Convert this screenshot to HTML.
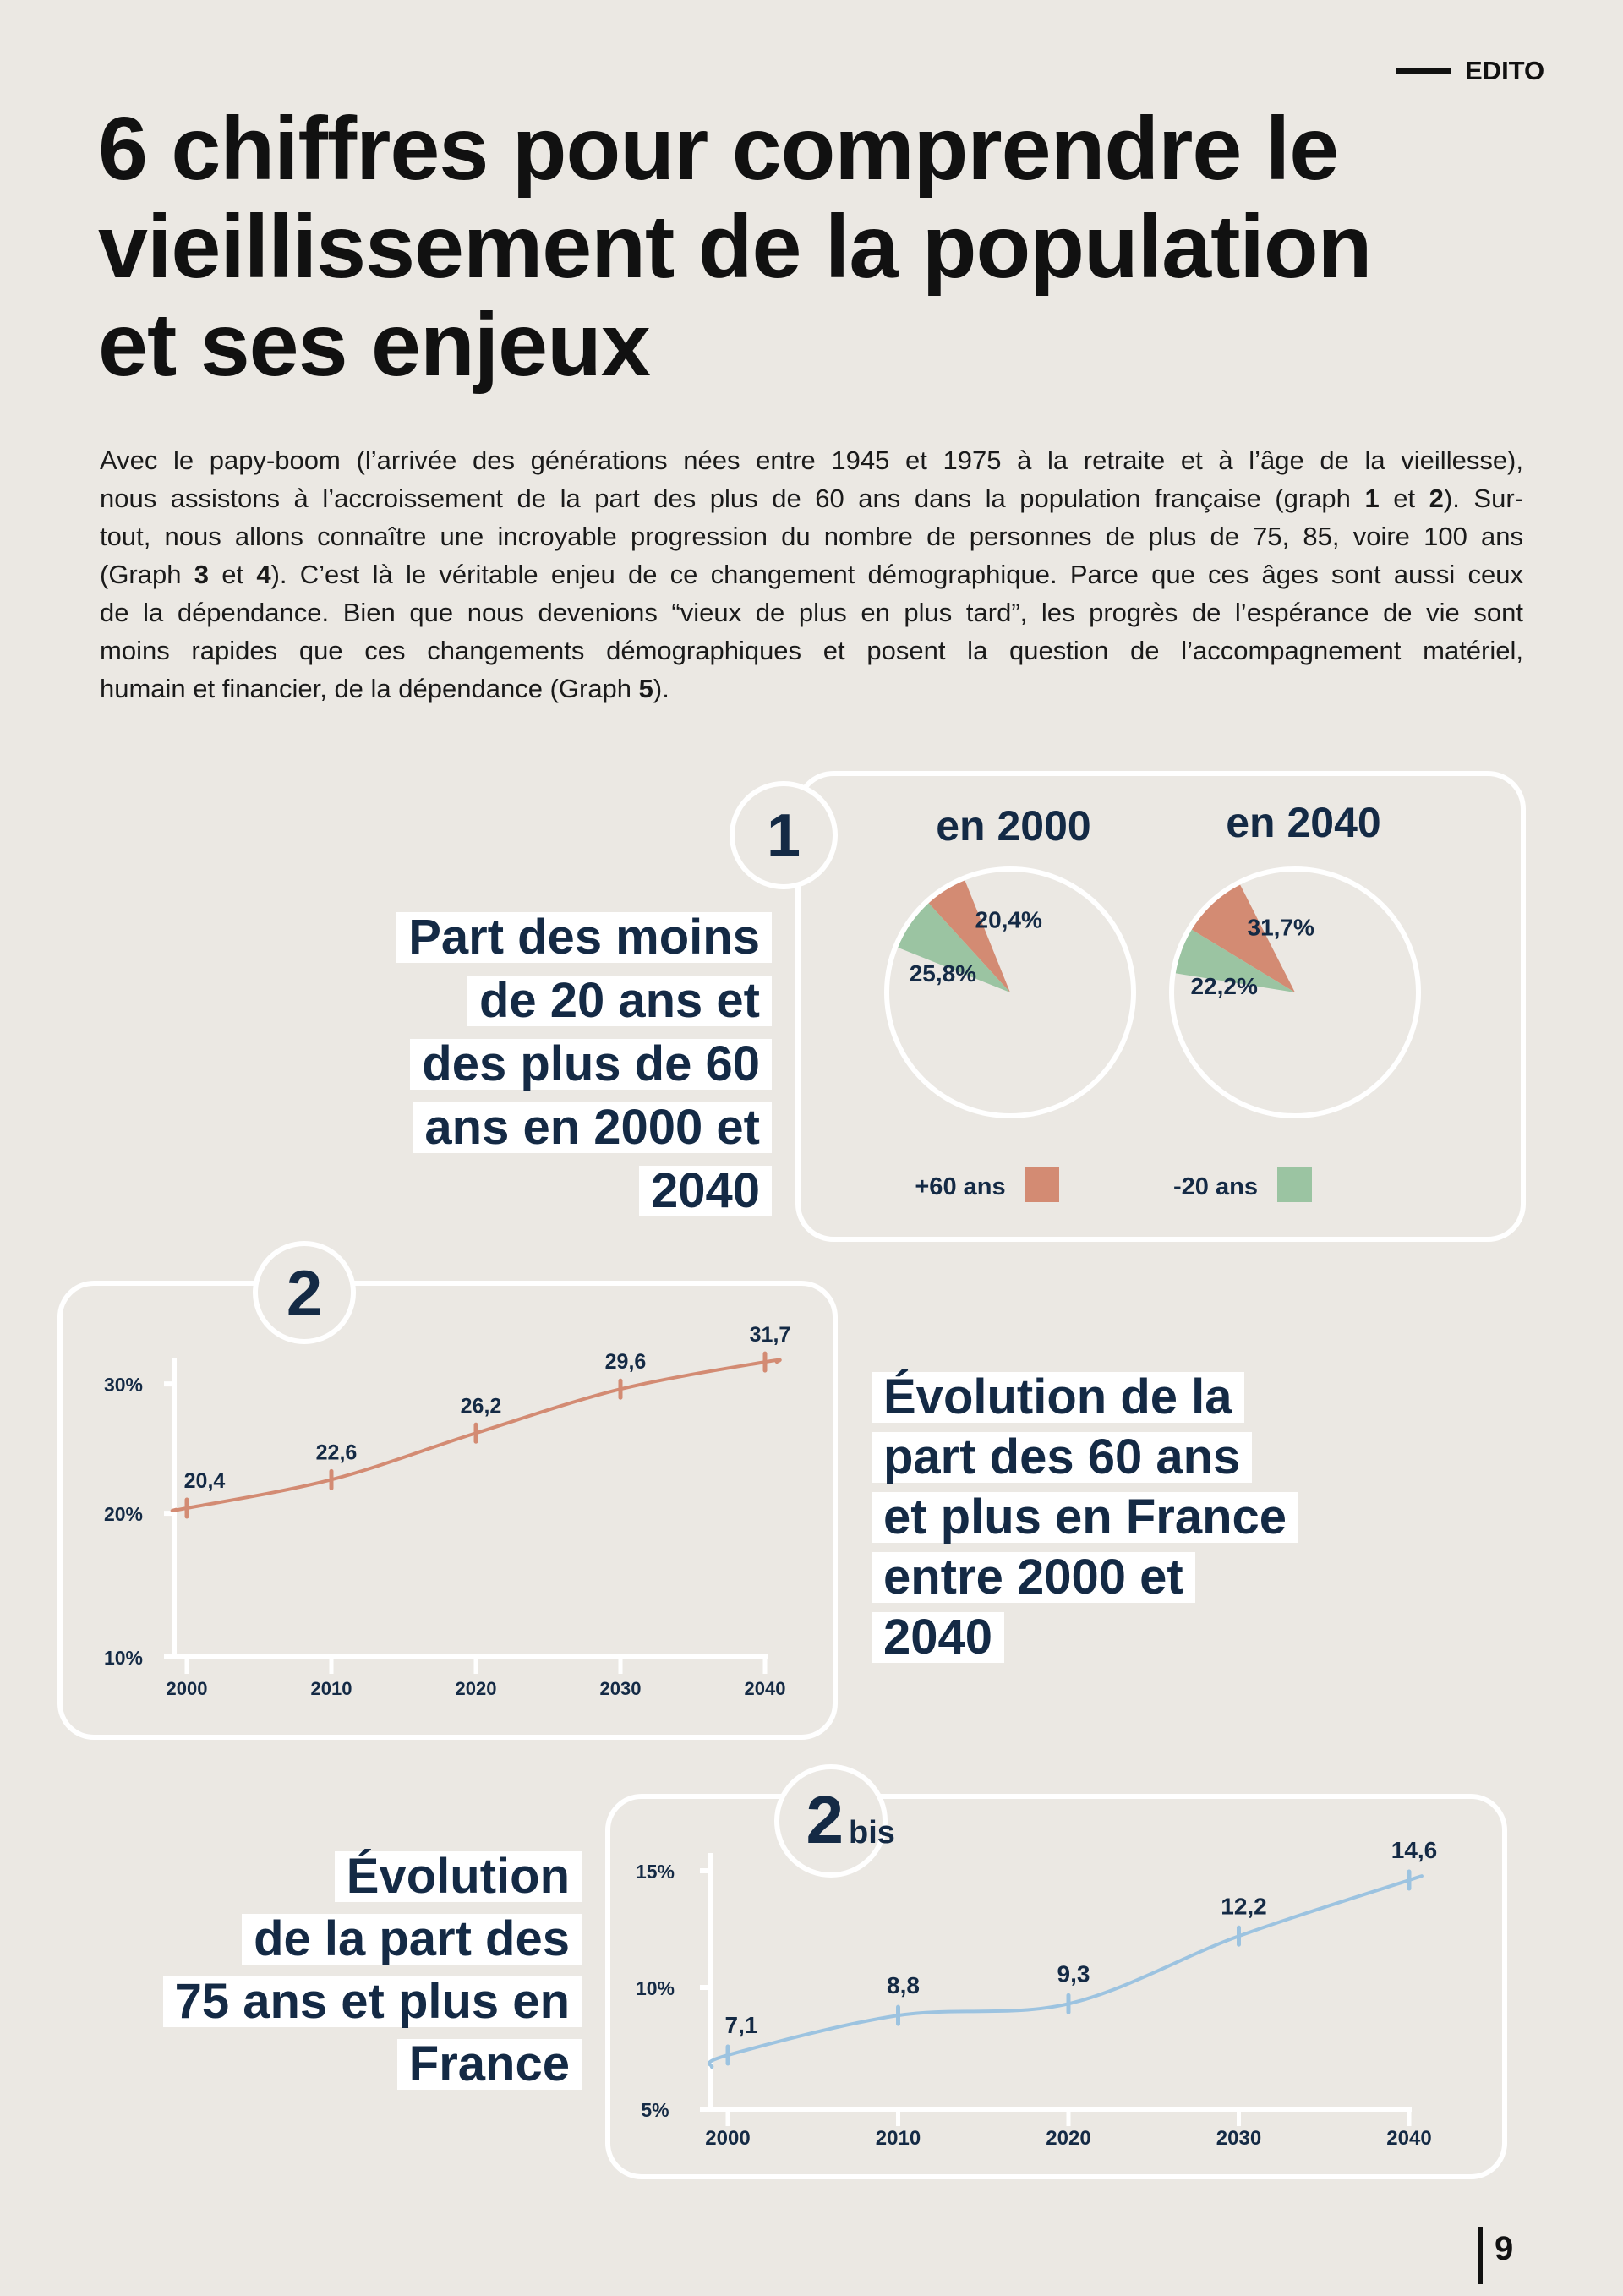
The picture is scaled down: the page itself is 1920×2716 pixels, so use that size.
<!DOCTYPE html>
<html><head><meta charset="utf-8">
<style>
*{margin:0;padding:0;box-sizing:border-box}
body{width:1920px;height:2716px;background:#ebe8e3;position:relative;overflow:hidden;font-family:"Liberation Sans",sans-serif;color:#142a45}
.abs{position:absolute}
#title{left:116px;top:118px;font-size:106px;font-weight:bold;line-height:116px;color:#111;letter-spacing:-1px;white-space:nowrap}
#intro{left:118px;top:522px;width:1684px;font-size:31px;line-height:45px;color:#1a1a1a}
#intro div{text-align:justify;text-align-last:justify;white-space:nowrap}
#intro div.last{text-align-last:left}
.hl{position:absolute;font-size:58px;font-weight:bold;color:#142a45;line-height:60px;display:flex;flex-direction:column}
.hl span{display:block;background:#fff;padding:0 14px;height:60px;white-space:nowrap}
.r{align-items:flex-end}.l{align-items:flex-start}
svg text{font-family:"Liberation Sans",sans-serif;font-weight:bold;fill:#142a45}
</style></head><body>
<div class="abs" style="left:1652px;top:80px;width:64px;height:7px;background:#111"></div>
<div class="abs" style="left:1733px;top:66px;font-size:31px;font-weight:bold;color:#111">EDITO</div>
<div id="title" class="abs">6 chiffres pour comprendre le<br>vieillissement de la population<br>et ses enjeux</div>
<div id="intro" class="abs">
<div>Avec le papy-boom (l’arrivée des générations nées entre 1945 et 1975 à la retraite et à l’âge de la vieillesse),</div>
<div>nous assistons à l’accroissement de la part des plus de 60 ans dans la population française (graph <b>1</b> et <b>2</b>). Sur-</div>
<div>tout, nous allons connaître une incroyable progression du nombre de personnes de plus de 75, 85, voire 100 ans</div>
<div>(Graph <b>3</b> et <b>4</b>). C’est là le véritable enjeu de ce changement démographique. Parce que ces âges sont aussi ceux</div>
<div>de la dépendance. Bien que nous devenions “vieux de plus en plus tard”, les progrès de l’espérance de vie sont</div>
<div>moins rapides que ces changements démographiques et posent la question de l’accompagnement matériel,</div>
<div class="last">humain et financier, de la dépendance (Graph <b>5</b>).</div>
</div>

<svg class="abs" style="left:0;top:0" width="1920" height="2716">
<g id="g1"></g><g id="g2"></g><g id="g3"></g>
</svg>

<div class="hl r" style="left:300px;top:1079px;width:613px;gap:15px">
<span>Part des moins</span><span>de 20 ans et</span><span>des plus de 60</span><span>ans en 2000 et</span><span>2040</span></div>
<div class="hl l" style="left:1031px;top:1623px;width:700px;gap:11px">
<span>Évolution de la</span><span>part des 60 ans</span><span>et plus en France</span><span>entre 2000 et</span><span>2040</span></div>
<div class="hl r" style="left:60px;top:2190px;width:628px;gap:14px">
<span>Évolution</span><span>de la part des</span><span>75 ans et plus en</span><span>France</span></div>

<div class="abs" style="left:1748px;top:2634px;width:6px;height:68px;background:#111"></div>
<div class="abs" style="left:1768px;top:2638px;font-size:40px;font-weight:bold;color:#111">9</div>

<script>
// Chart 1 data
const pieYears = ["en 2000", "en 2040"];
const over60 = [20.4, 31.7];
const under20 = [25.8, 22.2];
const over60Labels = ["20,4%", "31,7%"];
const under20Labels = ["25,8%", "22,2%"];
// Chart 2 data
const years2 = [2000, 2010, 2020, 2030, 2040];
const share60 = [20.4, 22.6, 26.2, 29.6, 31.7];
const share60Labels = ["20,4", "22,6", "26,2", "29,6", "31,7"];
const ticks2 = [10, 20, 30];
// Chart 2bis data
const years3 = [2000, 2010, 2020, 2030, 2040];
const share75 = [7.1, 8.8, 9.3, 12.2, 14.6];
const share75Labels = ["7,1", "8,8", "9,3", "12,2", "14,6"];
const ticks3 = [5, 10, 15];

const NS = "http://www.w3.org/2000/svg";
function mk(parent, tag, attrs, txt){
  const e = document.createElementNS(NS, tag);
  for (const k in attrs) e.setAttribute(k, attrs[k]);
  if (txt !== undefined) e.textContent = txt;
  parent.appendChild(e);
  return e;
}
function smooth(pts){
  let d = "M" + pts[0][0] + "," + pts[0][1];
  for (let i = 0; i < pts.length - 1; i++){
    const p0 = pts[i-1] || pts[i], p1 = pts[i], p2 = pts[i+1], p3 = pts[i+2] || p2;
    const c1 = [p1[0] + (p2[0]-p0[0])/6, p1[1] + (p2[1]-p0[1])/6];
    const c2 = [p2[0] - (p3[0]-p1[0])/6, p2[1] - (p3[1]-p1[1])/6];
    d += " C" + c1 + " " + c2 + " " + p2;
  }
  return d;
}
const W = "#ffffff";

// ---------- Chart 1 ----------
const g1 = document.getElementById("g1");
let e = mk(g1, "rect", {x:944, y:915, width:858, height:551, rx:42, fill:"none", stroke:W, "stroke-width":6});


e = mk(g1, "circle", {cx:927, cy:988, r:61, fill:"#ebe8e3", stroke:W, "stroke-width":6});


e = mk(g1, "text", {x:927, y:1013, "text-anchor":"middle", "font-size":72}, "1");


const pieCx = [1195, 1532], pieStart = [22, 27], pieR = 146, pieCy = 1174;
const lab1Off = [[38,5],[33,8]], lab2Off = [[4,32],[8,26]];
function pt(cx, cy, r, angDeg){ // CCW from top
  const a = angDeg * Math.PI/180;
  return [cx - r*Math.sin(a), cy - r*Math.cos(a)];
}
function slice(cx, a0, a1){
  const p0 = pt(cx, pieCy, pieR, a0), p1 = pt(cx, pieCy, pieR, a1);
  return "M"+cx+","+pieCy+" L"+p0+" A"+pieR+","+pieR+" 0 0 0 "+p1+" Z";
}
pieYears.forEach((yr, i) => {
  const cx = pieCx[i];
  let t = mk(g1, "text", {x:cx + (i?10:4), y:[994,990][i], "text-anchor":"middle", "font-size":50}, yr);
  
  
  const a0 = pieStart[i], a1 = a0 + over60[i], a2 = a1 + under20[i];
  let s = mk(g1, "path", {d:slice(cx, a0, a1), fill:"#d38b73"});
  
  
  s = mk(g1, "path", {d:slice(cx, a1, a2), fill:"#9bc4a2"});
  
  
  let c = mk(g1, "circle", {cx:cx, cy:pieCy, r:pieR, fill:"none", stroke:W, "stroke-width":6});
  
  
  const m1 = pt(cx, pieCy, pieR*0.62, a0 + over60[i]*0.2);
  const m2 = pt(cx, pieCy, pieR*0.65, a1 + under20[i]*0.75);
  t = mk(g1, "text", {x:m1[0]+lab1Off[i][0], y:m1[1]+lab1Off[i][1], "text-anchor":"middle", "font-size":28}, over60Labels[i]);
  
  
  t = mk(g1, "text", {x:m2[0]+lab2Off[i][0], y:m2[1]+lab2Off[i][1], "text-anchor":"middle", "font-size":28}, under20Labels[i]);
  
  
});
e = mk(g1, "text", {x:1136, y:1413, "text-anchor":"middle", "font-size":29}, "+60 ans");


e = mk(g1, "rect", {x:1212, y:1381, width:41, height:41, fill:"#d38b73"});


e = mk(g1, "text", {x:1438, y:1413, "text-anchor":"middle", "font-size":29}, "-20 ans");


e = mk(g1, "rect", {x:1511, y:1381, width:41, height:41, fill:"#9bc4a2"});



// ---------- Line chart helper ----------
function lineChart(g, o){
  let e = mk(g, "rect", {x:o.box[0], y:o.box[1], width:o.box[2], height:o.box[3], rx:40, fill:"none", stroke:W, "stroke-width":6});
  
  
  e = mk(g, "line", {x1:o.ax, y1:o.axTop, x2:o.ax, y2:o.base+3, stroke:W, "stroke-width":6});
  
  
  e = mk(g, "line", {x1:o.ax-12, y1:o.base, x2:o.x(o.years[o.years.length-1])+3, y2:o.base, stroke:W, "stroke-width":6});
  
  
  o.ticks.forEach((t, i) => {
    const y = i === 0 ? o.base : o.y(t);
    if (i > 0) {
      const l = mk(g, "line", {x1:o.ax-12, y1:y, x2:o.ax, y2:y, stroke:W, "stroke-width":6});
      
      
    }
    const tx = mk(g, "text", {x:o.tickX, y:y - o.tickDy, "text-anchor":"middle", "font-size":o.tickFs}, t + "%");
    
    
  });
  o.years.forEach(yr => {
    const x = o.x(yr);
    const l = mk(g, "line", {x1:x, y1:o.base, x2:x, y2:o.base+20, stroke:W, "stroke-width":5});
    
    
    const t = mk(g, "text", {x:x, y:o.base + o.yearDy, "text-anchor":"middle", "font-size":o.yearFs}, String(yr));
    
    
  });
  const pts = o.years.map((yr, i) => [o.x(yr), o.y(o.vals[i])]);
  const ext = [[o.ax+2, pts[0][1] + (pts[0][1]-pts[1][1])*o.extL], ...pts, [pts[pts.length-1][0]+o.extR, pts[pts.length-1][1]]];
  e = mk(g, "path", {d:smooth(ext), fill:"none", stroke:o.color, "stroke-width":4, "stroke-linecap":"round"});
  
  
  pts.forEach((p, i) => {
    const m = mk(g, "line", {x1:p[0], y1:p[1]-10, x2:p[0], y2:p[1]+10, stroke:o.color, "stroke-width":5, "stroke-linecap":"round"});
    
    
    const t = mk(g, "text", {x:p[0] + (i===0 ? o.firstDx : 6), y:p[1] - o.labDy, "text-anchor":"middle", "font-size":o.labFs}, o.labels[i]);
    
    
  });
  e = mk(g, "circle", {cx:o.badge[0], cy:o.badge[1], r:o.badge[2], fill:"#ebe8e3", stroke:W, "stroke-width":6});
  
  
}

// ---------- Chart 2 ----------
const g2 = document.getElementById("g2");
lineChart(g2, {
  id:"chart2", box:[71,1518,917,537], ax:206, axTop:1606, base:1960,
  x: yr => 221 + (yr-2000)*17.1, y: v => 1784 - (v-20.4)*15.3,
  years:years2, vals:share60, labels:share60Labels, ticks:ticks2,
  tickX:146, tickDy:-9, tickFs:23, yearDy:45, yearFs:22, labFs:25, labDy:24, firstDx:21,
  color:"#d38b73", extL:0.05, extR:14, badge:[360,1529,58]
});
e = mk(g2, "text", {x:360, y:1556, "text-anchor":"middle", "font-size":76}, "2");



// ---------- Chart 2bis ----------
const g3 = document.getElementById("g3");
lineChart(g3, {
  id:"chart2bis", box:[719,2125,1061,450], ax:840, axTop:2192, base:2495,
  x: yr => 861 + (yr-2000)*20.15, y: v => 2351 - (v-10)*27.6,
  years:years3, vals:share75, labels:share75Labels, ticks:ticks3,
  tickX:775, tickDy:-9, tickFs:23, yearDy:42, yearFs:24, labFs:28, labDy:26, firstDx:16,
  color:"#9cc3e0", extL:0.3, extR:0, badge:[983,2154,64]
});
e = mk(g3, "text", {x:998, y:2180, "text-anchor":"end", "font-size":80}, "2");


e = mk(g3, "text", {x:1004, y:2180, "text-anchor":"start", "font-size":38}, "bis");


</script>
</body></html>
